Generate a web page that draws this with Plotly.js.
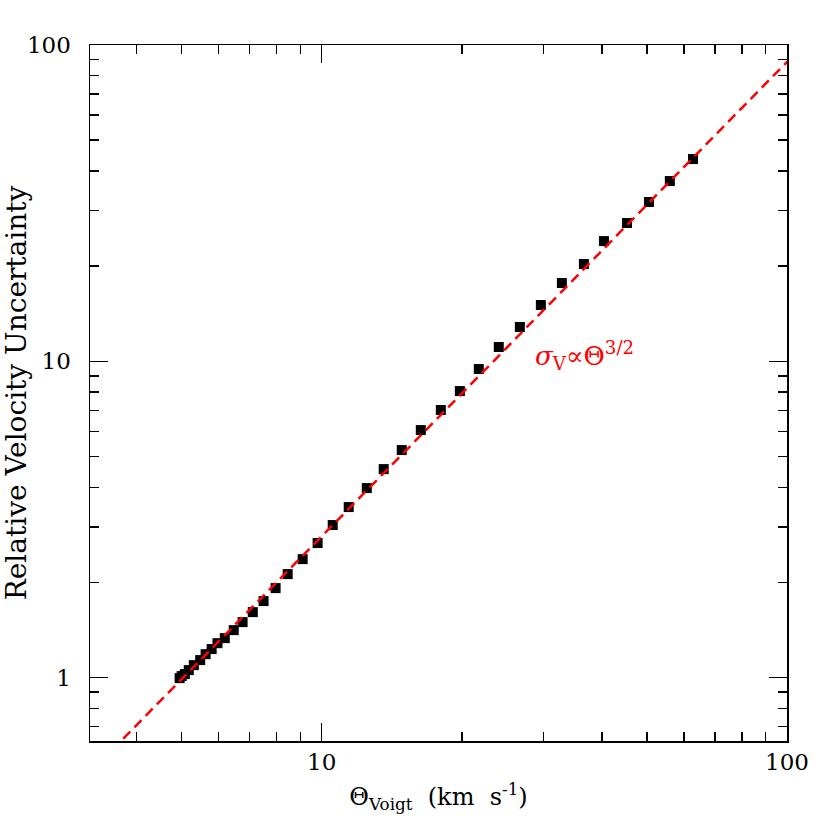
<!DOCTYPE html>
<html>
<head>
<meta charset="utf-8">
<script src="https://cdn.plot.ly/plotly-3.0.1.min.js"></script>
<style>
  body { margin: 0; background: #fff; }
  #plot { width: 830px; height: 830px; }
</style>
</head>
<body>
<div id="plot"></div>
<script>
// points
var theta = [4.95, 5.00, 5.08, 5.18, 5.31, 5.48, 5.63, 5.80, 5.97, 6.19,
             6.47, 6.76, 7.11, 7.50, 7.96, 8.45, 9.10, 9.80, 10.56, 11.43,
             12.50, 13.59, 14.86, 16.33, 18.03, 19.81, 21.76, 24.02, 26.66, 29.58,
             32.82, 36.60, 40.42, 45.30, 50.5, 56.0, 62.8];
var sigma = [0.997, 1.012, 1.027, 1.057, 1.096, 1.137, 1.187, 1.232, 1.286, 1.334,
             1.414, 1.499, 1.612, 1.747, 1.92, 2.126, 2.371, 2.665, 3.038, 3.463,
             3.976, 4.565, 5.244, 6.065, 7.018, 8.056, 9.456, 11.10, 12.84, 15.07,
             17.69, 20.31, 24.0, 27.37, 31.9, 37.15, 43.6];

// dashed sigma ~ theta^(3/2) line, endpoints
var lineX = [3.0, 110];
var lineY = [0.46, 102];

var xMajor = [10, 100];
var xMinor = [4, 5, 6, 7, 8, 9, 20, 30, 40, 50, 60, 70, 80, 90];
var yMajor = [1, 10, 100];
var yMinor = [0.7, 0.8, 0.9, 2, 3, 4, 5, 6, 7, 8, 9, 20, 30, 40, 50, 60, 70, 80, 90];

var serif = 'DejaVu Serif, Liberation Serif, serif';

var points = {
    x: theta,
    y: sigma,
    type: 'scatter',
    mode: 'markers',
    marker: { symbol: 'square', size: 10, color: '#000' },
    hoverinfo: 'skip'
};

var fit = {
    x: lineX,
    y: lineY,
    type: 'scatter',
    mode: 'lines',
    line: { color: '#ff0000', width: 2.5, dash: '10px,6px' },
    hoverinfo: 'skip'
};

function axis(major, minor, range, title, titleSize) {
    return {
        type: 'log',
        range: range,
        showline: true,
        linecolor: '#000',
        linewidth: 1.5,
        mirror: 'ticks',
        showgrid: false,
        zeroline: false,
        ticks: 'inside',
        ticklen: 18,
        tickwidth: 1.5,
        tickcolor: '#000',
        tickmode: 'array',
        tickvals: major,
        ticktext: major.map(String),
        tickfont: { family: serif, size: 23, color: '#000' },
        minor: { tickmode: 'array', tickvals: minor, ticks: 'inside', ticklen: 9, tickwidth: 1.5, tickcolor: '#000', showgrid: false },
        title: { text: title, font: { family: serif, size: titleSize, color: '#000' } }
    };
}

var layout = {
    width: 830,
    height: 830,
    margin: { l: 90, r: 43, t: 45, b: 89 },
    paper_bgcolor: '#fff',
    plot_bgcolor: '#fff',
    showlegend: false,
    xaxis: axis(xMajor, xMinor, [0.502, 2.0], 'Θ<sub>Voigt</sub>  (km  s<sup>-1</sup>)', 24),
    yaxis: axis(yMajor, yMinor, [-0.2, 2.0], 'Relative Velocity Uncertainty', 28),
    annotations: [{
        x: 1.454, y: 1.02,
        xref: 'x', yref: 'y',
        xanchor: 'left', yanchor: 'middle',
        text: '<i>σ</i><sub>V</sub>∝Θ<sup>3/2</sup>',
        showarrow: false,
        font: { family: serif, size: 26, color: '#ff0000' }
    }]
};
layout.yaxis.ticklabelstandoff = 13;
layout.xaxis.title.standoff = 14;
layout.yaxis.title.standoff = 6;

Plotly.newPlot('plot', [points, fit], layout, { staticPlot: true, displayModeBar: false });
</script>
</body>
</html>
